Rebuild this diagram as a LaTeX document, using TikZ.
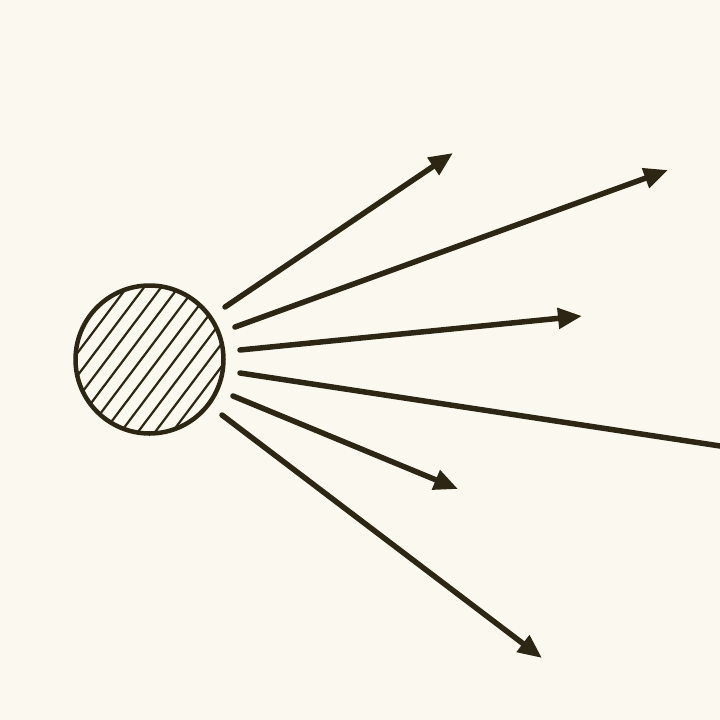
\documentclass[tikz,border=0pt]{standalone}
\usetikzlibrary{arrows.meta,calc}
\definecolor{bg}{HTML}{FAF8EF}
\definecolor{ink}{HTML}{2E2614}
\tikzset{
  ray/.style={draw=ink, line width=5.5pt, line cap=round},
  rayarrow/.style={ray, -{Triangle[length=24pt,width=20pt]}},
  hatch/.style={draw=ink, line width=2.2pt},
  sun/.style={circle, draw=ink, line width=4.5pt, minimum size=148pt, inner sep=0pt}
}
\begin{document}
\begin{tikzpicture}[x=1pt,y=-1pt]
\fill[bg] (0,0) rectangle (720,720);
\useasboundingbox (0,0) rectangle (720,720);
\clip (0,0) rectangle (720,720);
\coordinate (c) at (149.5,359.5);
\begin{scope}
  \clip (c) circle (74);
  \foreach \d in {-61.5,-47.8,...,70} {
    \draw[hatch] ($(c)+(0.8*\d,0.6*\d)+(-0.602*110,0.799*110)$) -- ($(c)+(0.8*\d,0.6*\d)+(0.602*110,-0.799*110)$);
  }
\end{scope}
\node[sun] (s) at (c) {};
\coordinate (a1) at (225,307);  \coordinate (b1) at (453,153);
\coordinate (a2) at (235,327);  \coordinate (b2) at (668,170);
\coordinate (a3) at (240,350);  \coordinate (b3) at (582,316);
\coordinate (a4) at (240,373);  \coordinate (b4) at (730,447.5);
\coordinate (a5) at (233,396);  \coordinate (b5) at (458,489);
\coordinate (a6) at (222,415);  \coordinate (b6) at (542,658);
\draw[rayarrow] (a1) -- (b1);
\draw[rayarrow] (a2) -- (b2);
\draw[rayarrow] (a3) -- (b3);
\draw[ray] (a4) -- (b4);
\draw[rayarrow] (a5) -- (b5);
\draw[rayarrow] (a6) -- (b6);
\end{tikzpicture}
\end{document}
